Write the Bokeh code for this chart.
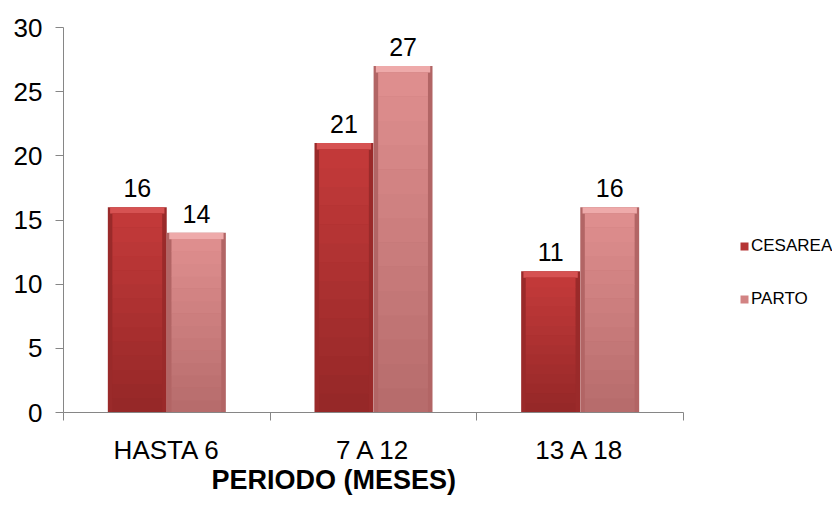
from bokeh.plotting import figure
from bokeh.models import (ColumnDataSource, FixedTicker, Legend, LegendItem, Title, Range1d)
from bokeh.embed import file_html
from bokeh.resources import INLINE
from bokeh.core.properties import value

# Data
periodos = ["HASTA 6", "7 A 12", "13 A 18"]
cesarea = [16, 21, 11]
parto = [14, 27, 16]
y_ticks = [0, 5, 10, 15, 20, 25, 30]

FONT = "Liberation Sans"
AXIS_GREY = "#868686"

# The plotting frame runs to the right edge so the legend can sit inside it;
# the x axis itself is bounded to the three categories.
n_cat = len(periodos)
frame_left, axis_right, page_w = 63, 683, 832
x_end = n_cat * (page_w - frame_left) / (axis_right - frame_left)

p = figure(width=page_w, height=517, output_backend="svg", toolbar_location=None,
           x_range=Range1d(0, x_end), y_range=Range1d(0, 30),
           min_border_left=frame_left, min_border_right=0, min_border_top=27, min_border_bottom=105)
p.outline_line_color = None
p.xgrid.grid_line_color = None
p.ygrid.grid_line_color = None
p.background_fill_color = "white"
p.border_fill_color = "white"

centers = [i + 0.5 for i in range(n_cat)]
bar_w = 0.285
offset = 0.143
bevel = 0.5      # height of the lit top edge, in value units
inset = 0.022    # side edge width, in category units
n_slices = 14


def hex_to_rgb(h):
    h = h.lstrip("#")
    return tuple(int(h[i:i + 2], 16) for i in (0, 2, 4))


def mix(c1, c2, t):
    a, b = hex_to_rgb(c1), hex_to_rgb(c2)
    return "#%02x%02x%02x" % tuple(round(a[i] + (b[i] - a[i]) * t) for i in range(3))


def bevel_bars(values, shift, edge, top_light, face_top, face_bottom):
    xs = [c + shift for c in centers]
    # darker side edges (full bar)
    p.vbar(x=xs, top=values, bottom=0, width=bar_w, fill_color=edge, line_color=None)
    # lit top edge
    p.vbar(x=xs, top=values, bottom=[v - bevel for v in values], width=bar_w - inset,
           fill_color=top_light, line_color=None)
    # front face as a vertical gradient
    face_tops = [v - bevel for v in values]
    legend_r = None
    for k in range(n_slices):
        src = ColumnDataSource(dict(
            x=xs,
            bottom=[ft * k / n_slices for ft in face_tops],
            top=[ft * (k + 1) / n_slices + 0.02 for ft in face_tops],
        ))
        col = mix(face_bottom, face_top, (k + 0.5) / n_slices)
        r = p.vbar(x="x", top="top", bottom="bottom", width=bar_w - 2 * inset, source=src,
                   fill_color=col, line_color=None)
        if k == n_slices * 2 // 3:
            legend_r = r
    # value labels
    p.text(x=xs, y=values, text=[str(v) for v in values], text_align="center",
           text_baseline="bottom", y_offset=-10, text_font=value(FONT),
           text_font_size="25px", text_color="black")
    return legend_r


r_ces = bevel_bars(cesarea, -offset, "#9a2a2a", "#d65252", "#c43a3a", "#942727")
r_par = bevel_bars(parto, offset, "#b26565", "#eeaaaa", "#e08f8f", "#b56b6b")

# Y axis
ya = p.yaxis[0]
ya.ticker = FixedTicker(ticks=y_ticks)
ya.axis_line_color = AXIS_GREY
ya.major_tick_line_color = AXIS_GREY
ya.major_tick_out = 8
ya.major_tick_in = 0
ya.minor_tick_line_color = None
ya.major_label_text_font = FONT
ya.major_label_text_font_size = "26px"
ya.major_label_text_color = "black"
ya.major_label_standoff = 13

# X axis: labels at the centres, tick marks between categories
xa = p.xaxis[0]
xa.bounds = (0, n_cat)
xa.ticker = FixedTicker(ticks=centers, minor_ticks=list(range(n_cat + 1)))
xa.major_label_overrides = {c: name for c, name in zip(centers, periodos)}
xa.axis_line_color = AXIS_GREY
xa.major_tick_line_color = None
xa.major_tick_out = 0
xa.major_tick_in = 0
xa.minor_tick_line_color = AXIS_GREY
xa.minor_tick_out = 8
xa.minor_tick_in = 0
xa.major_label_text_font = FONT
xa.major_label_text_font_size = "26px"
xa.major_label_text_color = "black"
xa.major_label_standoff = 14

# Axis title under the categories
p.add_layout(Title(text="PERIODO (MESES)", align="left", offset=148, standoff=-10,
                   text_font=FONT, text_font_size="27px", text_font_style="bold",
                   text_color="black"), "below")

legend = Legend(items=[LegendItem(label="CESAREA", renderers=[r_ces]),
                       LegendItem(label="PARTO", renderers=[r_par])],
                location=(676, 103), orientation="vertical",
                glyph_width=10, glyph_height=10, label_height=20, spacing=33,
                label_standoff=2, padding=0, margin=0,
                label_text_font=FONT, label_text_font_size="17px", label_text_color="black",
                border_line_color=None, background_fill_alpha=0)
p.add_layout(legend, "center")

open("out.html", "w").write(file_html(p, INLINE))
